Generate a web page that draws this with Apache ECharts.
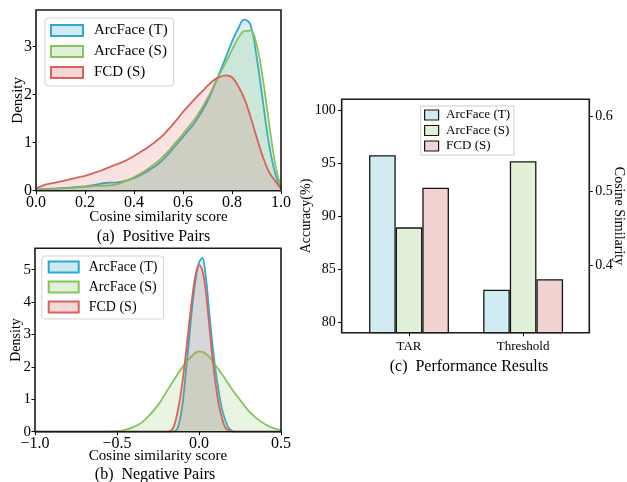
<!DOCTYPE html>
<html><head><meta charset="utf-8">
<script src="https://cdn.jsdelivr.net/npm/echarts@6/dist/echarts.min.js"></script>
<style>html,body{margin:0;padding:0;background:#fff}#c{width:627px;height:482px}</style>
</head><body><div id="c"></div>
<script>
const seriesNames = ['ArcFace (T)', 'ArcFace (S)', 'FCD (S)'];

// (a) Positive pairs — KDE curves (density read at each x)
const posX = [0.000,0.025,0.050,0.075,0.100,0.125,0.150,0.175,0.200,0.225,0.250,0.275,0.300,0.325,0.350,0.375,0.400,0.425,0.450,0.475,0.500,0.525,0.550,0.575,0.600,0.625,0.650,0.675,0.700,0.725,0.750,0.775,0.800,0.825,0.850,0.875,0.900,0.925,0.950,0.975,1.000];
const posY_T = [0.03,0.035,0.04,0.045,0.05,0.06,0.07,0.08,0.09,0.11,0.13,0.155,0.17,0.17,0.19,0.22,0.26,0.32,0.39,0.47,0.56,0.68,0.82,0.97,1.12,1.27,1.43,1.63,1.86,2.15,2.47,2.78,3.10,3.37,3.56,3.46,2.80,1.90,1.00,0.38,0.03];
const posY_S = [0.02,0.025,0.03,0.04,0.05,0.055,0.06,0.07,0.08,0.09,0.10,0.105,0.11,0.125,0.17,0.22,0.28,0.35,0.43,0.52,0.62,0.74,0.88,1.03,1.18,1.34,1.50,1.70,1.92,2.17,2.43,2.67,2.93,3.17,3.32,3.33,3.05,2.36,1.45,0.60,0.05];
const posY_F = [0.05,0.10,0.14,0.165,0.19,0.22,0.25,0.28,0.31,0.35,0.39,0.44,0.49,0.54,0.59,0.65,0.72,0.80,0.88,0.97,1.07,1.19,1.33,1.48,1.64,1.78,1.92,2.05,2.18,2.30,2.37,2.40,2.36,2.18,1.92,1.55,1.12,0.72,0.40,0.21,0.05];

// (b) Negative pairs — KDE curves
const negX_TF = [-1.0,-0.24,-0.22,-0.20,-0.18,-0.16,-0.14,-0.12,-0.10,-0.08,-0.06,-0.04,-0.02,0.00,0.02,0.04,0.06,0.08,0.10,0.12,0.14,0.16,0.18,0.20,0.22,0.24,0.5];
const negY_T = [0,0,0,0,0,0.005,0.03,0.28,0.87,1.85,2.88,3.92,4.72,5.22,5.36,4.85,3.82,2.78,1.93,1.25,0.70,0.36,0.12,0.03,0.005,0,0];
const negY_F = [0,0,0,0.005,0.02,0.09,0.40,0.90,1.58,2.42,3.35,4.20,4.86,5.14,4.98,4.40,3.40,2.37,1.52,0.85,0.42,0.13,0.04,0.01,0,0,0];
const negX_S = [-1.0,-0.6,-0.55,-0.5,-0.45,-0.4,-0.35,-0.3,-0.25,-0.2,-0.15,-0.1,-0.05,0.0,0.05,0.1,0.15,0.2,0.25,0.3,0.35,0.4,0.45,0.5];
const negY_S = [0,0,0.005,0.02,0.06,0.14,0.28,0.52,0.82,1.22,1.62,2.0,2.3,2.48,2.38,2.06,1.70,1.32,0.98,0.66,0.42,0.24,0.12,0.05];

// (c) Performance results
const perfCategories = ['TAR', 'Threshold'];
const tarValues = [95.72, 88.93, 92.67];        // Accuracy (%)
const thresholdValues = [0.368, 0.5395, 0.382]; // Cosine similarity

// tick labels
const posTicksX = [0, 0.2, 0.4, 0.6, 0.8, 1.0];
const posTicksY = [0, 1, 2, 3];
const negTicksX = [-1.0, -0.5, 0.0, 0.5];
const negTicksY = [0, 1, 2, 3, 4, 5];
const accTicks = [80, 85, 90, 95, 100];
const simTicks = [0.4, 0.5, 0.6];
const perfTicks = [0, 1];

const FONT = '"Liberation Serif", "Times New Roman", serif';
const lineColors = ['#2ea9cc', '#86c35b', '#d9625a'];
const fillColors = ['rgba(46,169,204,0.25)', 'rgba(134,195,91,0.25)', 'rgba(217,98,90,0.25)'];
const legendFills = ['#cbeaf2', '#e1f0d6', '#f5d8d6'];
const barColors = ['#d0ecf2', '#e3f0d8', '#f1d3d1'];

const zip = (xs, ys) => xs.map((x, i) => [x, ys[i]]);
const fmt1 = v => (v < 0 ? '\u2212' : '') + Math.abs(v).toFixed(1);

function valueAxis(o) {
  return Object.assign({
    type: 'value',
    axisLine: { show: false, onZero: false },
    splitLine: { show: false },
    nameLocation: 'middle',
    nameMoveOverlap: false,
    nameTextStyle: { color: '#000', fontFamily: FONT, fontSize: 15 }
  }, o);
}
function ticks(vals) { return { show: true, length: 3.5, customValues: vals, lineStyle: { color: '#000', width: 1 } }; }
function labels(vals, size, margin, formatter) {
  const l = { customValues: vals, fontSize: size, margin: margin, color: '#000', fontFamily: FONT };
  if (formatter) l.formatter = formatter;
  return l;
}

const gridBase = { show: true, borderColor: '#1a1a1a', borderWidth: 1.6, backgroundColor: 'transparent', z: 5, containLabel: false, outerBoundsMode: 'none' };

const kdeSets = [
  [zip(posX, posY_T), zip(posX, posY_S), zip(posX, posY_F)],
  [zip(negX_TF, negY_T), zip(negX_S, negY_S), zip(negX_TF, negY_F)]
];

const series = [];
kdeSets.forEach((set, g) => {
  set.forEach((data, i) => {
    series.push({
      type: 'line', name: seriesNames[i], xAxisIndex: g, yAxisIndex: g,
      data: data, smooth: 0.4, showSymbol: false, symbol: 'none',
      lineStyle: { color: lineColors[i], width: 1.8 },
      itemStyle: { color: lineColors[i] },
      areaStyle: { color: fillColors[i] },
      z: 2 + i
    });
  });
});
seriesNames.forEach((n, i) => {
  series.push({
    type: 'bar', name: n, xAxisIndex: 2, yAxisIndex: 2,
    data: [[perfTicks[0], tarValues[i]], [perfTicks[1], null]],
    barGap: '0%', barCategoryGap: '30%', clip: true,
    itemStyle: { color: barColors[i], borderColor: '#151515', borderWidth: 1.3 }
  });
});
seriesNames.forEach((n, i) => {
  series.push({
    type: 'bar', name: n, xAxisIndex: 3, yAxisIndex: 3,
    data: [[perfTicks[0], null], [perfTicks[1], thresholdValues[i]]],
    barGap: '0%', barCategoryGap: '30%', clip: true,
    itemStyle: { color: barColors[i], borderColor: '#151515', borderWidth: 1.3 }
  });
});

const captionStyle = (t) => ({ text: t, font: '16px ' + FONT, fill: '#000', textAlign: 'center', textVerticalAlign: 'middle', align: 'center', verticalAlign: 'middle' });

const option = {
  animation: false,
  backgroundColor: '#fff',
  textStyle: { fontFamily: FONT },
  grid: [
    Object.assign({ left: 36, top: 10, width: 245, height: 180.7 }, gridBase),
    Object.assign({ left: 35, top: 248.3, width: 246, height: 183.4 }, gridBase),
    Object.assign({ left: 341.7, top: 99.3, width: 247.6, height: 233.4 }, gridBase)
  ],
  xAxis: [
    valueAxis({ gridIndex: 0, min: 0, max: 1, axisTick: ticks(posTicksX), axisLabel: labels(posTicksX, 16, 4, fmt1),
      name: 'Cosine similarity score', nameGap: 19 }),
    valueAxis({ gridIndex: 1, min: -1, max: 0.5, axisTick: ticks(negTicksX), axisLabel: labels(negTicksX, 16, 4, fmt1),
      name: 'Cosine similarity score', nameGap: 17 }),
    valueAxis({ gridIndex: 2, min: -0.59, max: 1.58, axisTick: ticks(perfTicks),
      axisLabel: labels(perfTicks, 13, 7, v => perfCategories[Math.round(v)]) }),
    valueAxis({ gridIndex: 2, min: -0.59, max: 1.58, show: false })
  ],
  yAxis: [
    valueAxis({ gridIndex: 0, min: 0, max: 3.76, axisTick: ticks(posTicksY), axisLabel: labels(posTicksY, 16, 4),
      name: 'Density', nameGap: 10, nameRotate: 90 }),
    valueAxis({ gridIndex: 1, min: 0, max: 5.66, axisTick: ticks(negTicksY), axisLabel: labels(negTicksY, 15, 4),
      name: 'Density', nameGap: 12, nameRotate: 90, nameTextStyle: { color: '#000', fontFamily: FONT, fontSize: 14 } }),
    valueAxis({ gridIndex: 2, min: 79, max: 101, axisTick: ticks(accTicks), axisLabel: labels(accTicks, 14, 6),
      name: 'Accuracy(%)', nameGap: 28, nameRotate: 90, nameTextStyle: { color: '#000', fontFamily: FONT, fontSize: 14 } }),
    valueAxis({ gridIndex: 2, position: 'right', min: 0.3105, max: 0.6223, axisTick: ticks(simTicks),
      axisLabel: labels(simTicks, 14, 6, v => v.toFixed(1)),
      name: 'Cosine Similarity', nameGap: 22, nameRotate: -90, nameTextStyle: { color: '#000', fontFamily: FONT, fontSize: 14 } })
  ],
  legend: [
    { left: 45, top: 18, orient: 'vertical', icon: 'rect', itemWidth: 32, itemHeight: 11, itemGap: 6,
      padding: [5, 6, 6, 5], backgroundColor: 'rgba(255,255,255,0.8)', borderColor: '#d4d4d4', borderWidth: 1, borderRadius: 3,
      selectedMode: false,
      textStyle: { color: '#000', fontFamily: FONT, fontSize: 15, padding: [0, 0, 0, 6] },
      data: seriesNames.map((n, i) => ({ name: n, itemStyle: { color: legendFills[i], borderColor: lineColors[i], borderWidth: 2 } })) },
    { left: 41.7, top: 256, orient: 'vertical', icon: 'rect', itemWidth: 30, itemHeight: 11, itemGap: 6,
      padding: [4, 6, 5, 6], backgroundColor: 'rgba(255,255,255,0.8)', borderColor: '#d4d4d4', borderWidth: 1, borderRadius: 3,
      selectedMode: false,
      textStyle: { color: '#000', fontFamily: FONT, fontSize: 14, padding: [0, 0, 0, 5] },
      data: seriesNames.map((n, i) => ({ name: n, itemStyle: { color: legendFills[i], borderColor: lineColors[i], borderWidth: 2 } })) },
    { left: 420.7, top: 106, orient: 'vertical', icon: 'rect', itemWidth: 14, itemHeight: 10, itemGap: 2.5,
      padding: [2.5, 4, 2.5, 3.3], backgroundColor: 'rgba(255,255,255,0.8)', borderColor: '#cccccc', borderWidth: 1, borderRadius: 0,
      selectedMode: false,
      textStyle: { color: '#000', fontFamily: FONT, fontSize: 13, padding: [0, 0, 0, 2.5] },
      data: seriesNames.map((n, i) => ({ name: n, itemStyle: { color: barColors[i], borderColor: '#151515', borderWidth: 1.2 } })) }
  ],
  graphic: [
    { type: 'text', x: 153.5, y: 237, style: captionStyle('(a)  Positive Pairs') },
    { type: 'text', x: 155, y: 475, style: captionStyle('(b)  Negative Pairs') },
    { type: 'text', x: 469, y: 366.7, style: captionStyle('(c)  Performance Results') }
  ],
  series: series
};

const chart = echarts.init(document.getElementById('c'), null, { renderer: 'canvas' });
chart.setOption(option);
</script>
</body></html>
